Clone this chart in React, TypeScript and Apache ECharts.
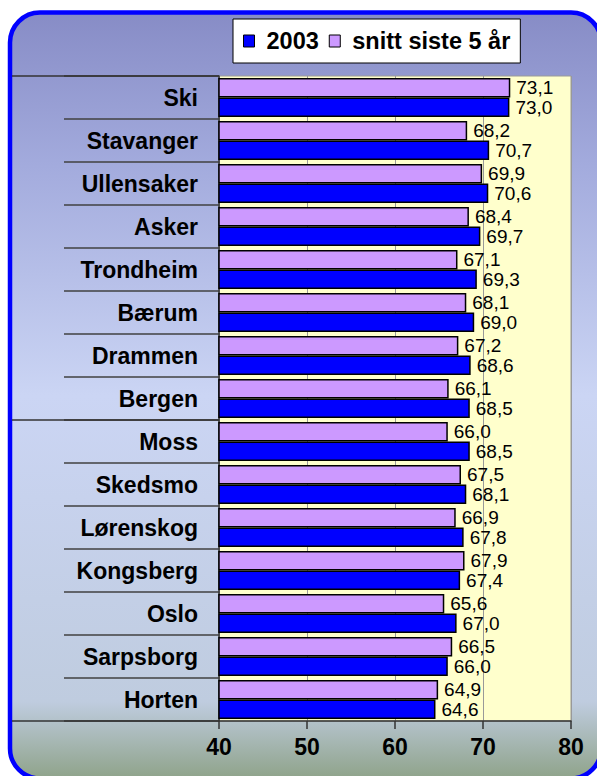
import React, { useEffect, useRef } from "react";
import * as echarts from "echarts";

const cities = [
  "Ski", "Stavanger", "Ullensaker", "Asker", "Trondheim", "Bærum", "Drammen", "Bergen",
  "Moss", "Skedsmo", "Lørenskog", "Kongsberg", "Oslo", "Sarpsborg", "Horten",
];
const values2003 = [73.0, 70.7, 70.6, 69.7, 69.3, 69.0, 68.6, 68.5, 68.5, 68.1, 67.8, 67.4, 67.0, 66.0, 64.6];
const valuesSnitt = [73.1, 68.2, 69.9, 68.4, 67.1, 68.1, 67.2, 66.1, 66.0, 67.5, 66.9, 67.9, 65.6, 66.5, 64.9];
const seriesNames = ["2003", "snitt siste 5 år"];
const xMin = 40;
const xMax = 80;
const xStep = 10;

const FONT = "'Liberation Sans', Arial, sans-serif";
const GRID_TOP = 76;
const GRID_BOTTOM_Y = 721;
const GRID_LEFT = 219;
const GROUP_BREAK = 8; // line after Bergen

export default function App() {
  const ref = useRef<HTMLDivElement>(null);
  useEffect(() => {
    if (!ref.current) return;
    const chart = echarts.init(ref.current, undefined, { renderer: "svg" });
    const band = (GRID_BOTTOM_Y - GRID_TOP) / cities.length;
    const fullLines = [GRID_TOP, GRID_TOP + band * GROUP_BREAK, GRID_BOTTOM_Y].map((y) => ({
      type: "line",
      z: 100,
      silent: true,
      shape: { x1: 12, y1: y, x2: GRID_LEFT, y2: y },
      style: { stroke: "#333", lineWidth: 1.5 },
    }));
    const fmt = (p: any) => Number(p.value).toFixed(1).replace(".", ",");
    const labelStyle = {
      show: true,
      position: "right",
      distance: 6,
      formatter: fmt,
      fontFamily: FONT,
      fontSize: 19,
      lineHeight: 19,
      color: "#000",
    };
    chart.setOption({
      animation: false,
      graphic: [
        {
          type: "rect",
          z: -100,
          silent: true,
          shape: { x: 10, y: 12.5, width: 591, height: 766, r: 30 },
          style: {
            fill: new echarts.graphic.LinearGradient(0, 0, 0, 1, [
              { offset: 0, color: "#878cc6" },
              { offset: 0.2, color: "#a3abdd" },
              { offset: 0.5, color: "#cbd5f4" },
              { offset: 0.9, color: "#bfccdf" },
              { offset: 1, color: "#8fa38a" },
            ]),
            stroke: "#0000ff",
            lineWidth: 4.5,
          },
        },
        ...fullLines,
      ],
      legend: {
        data: seriesNames,
        left: 233,
        top: 19,
        icon: "rect",
        itemWidth: 11,
        itemHeight: 12,
        itemGap: 10,
        padding: [10, 10, 10, 10],
        backgroundColor: "#ffffff",
        borderColor: "#000000",
        borderWidth: 1,
        itemStyle: { borderColor: "#000", borderWidth: 1 },
        textStyle: {
          fontFamily: FONT,
          fontWeight: "bold",
          fontSize: 23.5,
          color: "#000",
          padding: [0, 0, 0, 7],
        },
      },
      grid: {
        left: GRID_LEFT,
        right: 26,
        top: GRID_TOP,
        bottom: 776 - GRID_BOTTOM_Y,
        show: true,
        backgroundColor: "#ffffcc",
        borderColor: "#999999",
        borderWidth: 1,
      },
      xAxis: {
        type: "value",
        min: xMin,
        max: xMax,
        interval: xStep,
        axisLine: { show: true, lineStyle: { color: "#333", width: 1.5 } },
        axisTick: { show: true, length: 8, lineStyle: { color: "#333", width: 1.5 } },
        axisLabel: {
          margin: 14,
          fontFamily: FONT,
          fontWeight: "bold",
          fontSize: 23,
          color: "#000",
        },
        splitLine: { show: true, lineStyle: { color: "#999999", width: 1 } },
      },
      yAxis: {
        type: "category",
        data: cities,
        inverse: true,
        axisLine: { show: true, lineStyle: { color: "#333", width: 1.5 } },
        axisTick: { show: true, length: 155, lineStyle: { color: "#404040", width: 1.5 } },
        axisLabel: {
          margin: 21,
          fontFamily: FONT,
          fontWeight: "bold",
          fontSize: 23,
          color: "#000",
        },
        splitLine: { show: false },
      },
      series: [
        {
          name: seriesNames[1],
          type: "bar",
          data: valuesSnitt,
          barWidth: 19.5,
          barGap: "0%",
          itemStyle: { color: "#cc99ff", borderColor: "#000", borderWidth: 1.5 },
          label: labelStyle,
        },
        {
          name: seriesNames[0],
          type: "bar",
          data: values2003,
          barWidth: 19.5,
          barGap: "0%",
          itemStyle: { color: "#0000ff", borderColor: "#000", borderWidth: 1.5 },
          label: labelStyle,
        },
      ],
    });
    return () => chart.dispose();
  }, []);
  return (
    <div
      ref={ref}
      style={{ position: "absolute", left: 0, top: 0, width: 597, height: 776 }}
    />
  );
}
